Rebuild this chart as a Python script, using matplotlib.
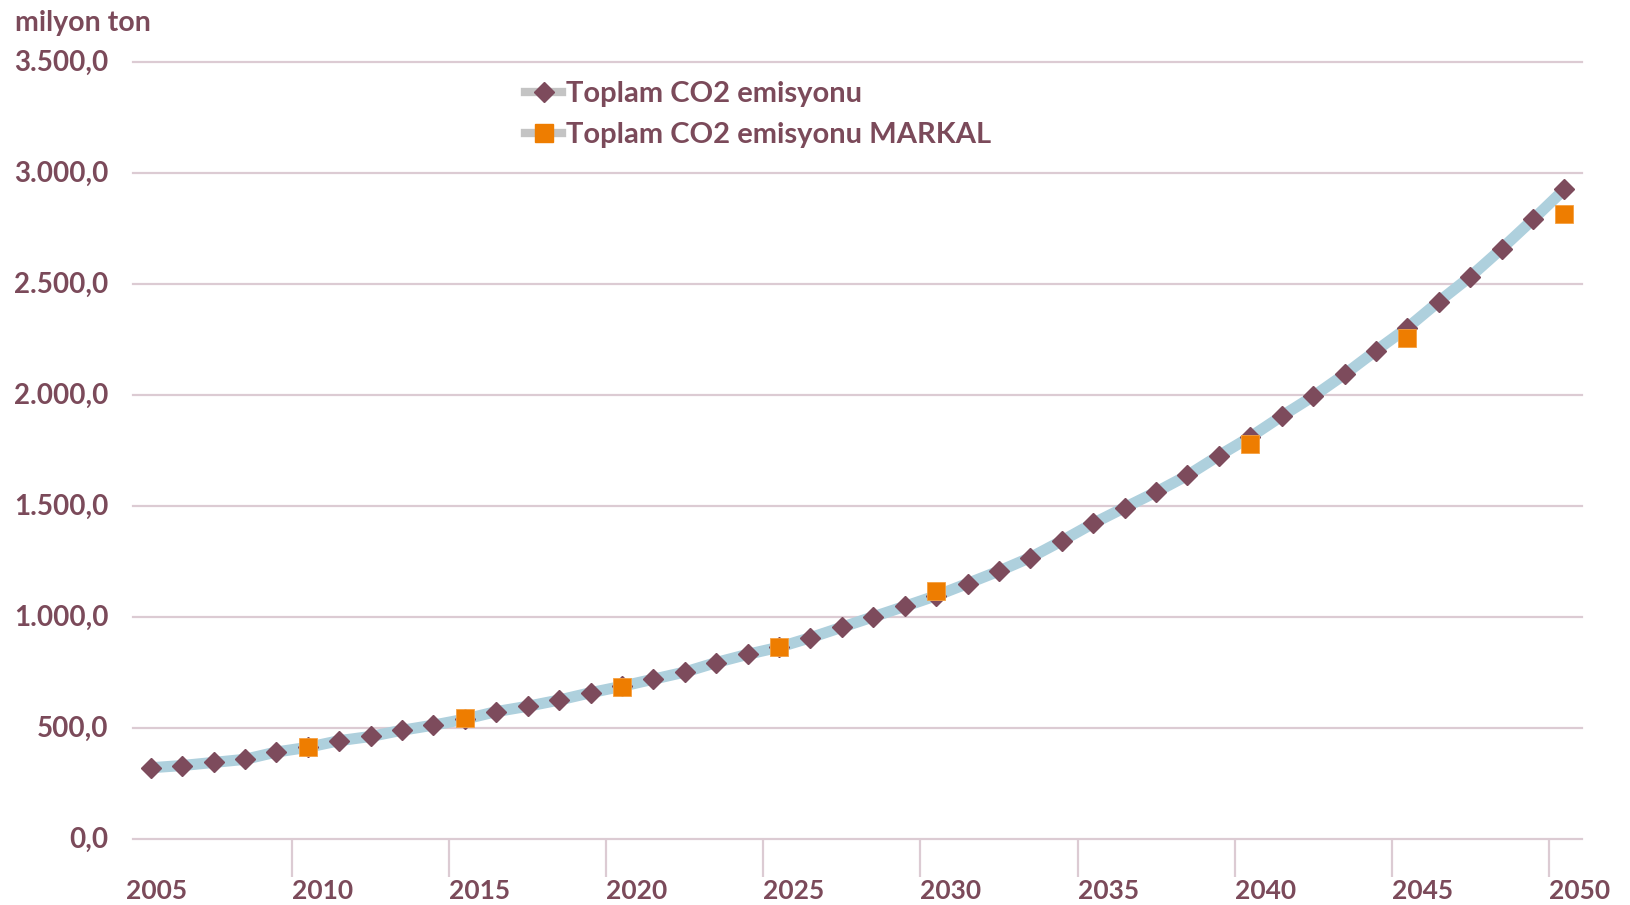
import numpy as np
import matplotlib
matplotlib.use("Agg")
import matplotlib.pyplot as plt
from matplotlib.lines import Line2D

years = list(range(2005, 2051))
toplam = [323, 333, 347, 361, 394, 415, 445, 464, 492, 515,
          542, 576, 600, 628, 661, 690, 722, 754, 797, 834,
          866, 909, 956, 1003, 1050, 1098, 1153, 1209, 1270, 1345,
          1424, 1495, 1565, 1640, 1729, 1813, 1907, 1996, 2095, 2202,
          2305, 2423, 2535, 2661, 2793, 2929]
markal_years = [2010, 2015, 2020, 2025, 2030, 2040, 2045, 2050]
markal = [417, 548, 689, 867, 1120, 1781, 2259, 2816]
yticks = [0, 500, 1000, 1500, 2000, 2500, 3000, 3500]
ytick_labels = ["0,0", "500,0", "1.000,0", "1.500,0", "2.000,0", "2.500,0", "3.000,0", "3.500,0"]
xlabel_years = [2005, 2010, 2015, 2020, 2025, 2030, 2035, 2040, 2045, 2050]

TEXT = "#7B4A5A"
GRID = "#DCCBD3"
LINE = "#AED0DD"
DIAM = "#7D4B5C"
ORNG = "#EE7D00"
FONT = ["Lato", "DejaVu Sans"]

fig = plt.figure(figsize=(16.31, 9.05), dpi=100)
ax = fig.add_axes([0.0816, 0.0724, 0.9700 - 0.0816, 0.931 - 0.0724])
ax.set_xlim(2004.44, 2050.56)
ax.set_ylim(0, 3500)
for s in ax.spines.values():
    s.set_visible(False)
for yv in yticks:
    ax.axhline(yv, color=GRID, lw=1.6, clip_on=False, zorder=1)

ax.plot(years, toplam, color=LINE, lw=8, solid_capstyle="round", zorder=2)
ax.plot(years, toplam, ls="none", marker="D", ms=10.5, color=DIAM, zorder=3)
ax.plot(markal_years, markal, ls="none", marker="s", ms=13, color=ORNG,
        markeredgecolor="#F5A040", markeredgewidth=0.6, zorder=4)

# tick marks at category boundaries
tick_pos = [y - 0.5 for y in xlabel_years[1:]]
ax.set_xticks(tick_pos)
ax.tick_params(axis="x", length=27, width=1.6, color=GRID, labelbottom=False)
ax.set_yticks([])
for y in xlabel_years:
    ax.text(y - 0.5 if y > 2005 else 2004.2, -232, str(y), ha="left", va="center",
            fontsize=19, fontweight="bold", color=TEXT, family=FONT, clip_on=False)
for yv, lab in zip(yticks, ytick_labels):
    ax.text(2004.2 - 0.55, yv, lab, ha="right", va="center", fontsize=20,
            fontweight="bold", color=TEXT, family=FONT, clip_on=False,
            transform=ax.transData)
fig.text(0.0095, 0.975, "milyon ton", ha="left", va="center", fontsize=20.5,
         fontweight="bold", color=TEXT, family=FONT)

handles = [
    Line2D([0], [0], color="#C4C4C4", lw=6, marker="D", ms=10.5, markerfacecolor=DIAM,
           markeredgecolor=DIAM),
    Line2D([0], [0], color="#C4C4C4", lw=6, marker="s", ms=13, markerfacecolor=ORNG,
           markeredgecolor=ORNG),
]
labels = ["Toplam CO2 emisyonu", "Toplam CO2 emisyonu MARKAL"]
leg = fig.legend(handles, labels, loc="upper left", bbox_to_anchor=(0.306, 0.939),
                 frameon=False, handlelength=1.25, handletextpad=0.15, labelspacing=0.5,
                 prop={"family": FONT, "size": 21, "weight": "bold"})
for t in leg.get_texts():
    t.set_color(TEXT)

fig.savefig("out.png", dpi=100)
